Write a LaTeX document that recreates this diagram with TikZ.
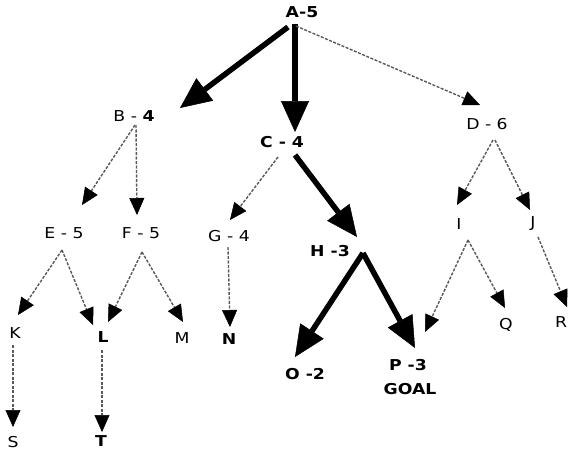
\documentclass[tikz,border=0pt]{standalone}
\usepackage{fontspec}
\setmainfont{DejaVu Sans}[FakeStretch=1.15]
\usepackage{tikz}
\usetikzlibrary{arrows.meta, calc}

\begin{document}
\begin{tikzpicture}[x=1pt, y=-1pt,
    lbl/.style={font=\fontsize{15}{17}\selectfont, inner sep=1pt},
    lblb/.style={lbl, font=\fontsize{15}{17}\selectfont\bfseries},
    hot/.style={line width=5.5pt, -{Triangle[length=31pt, width=28pt, line width=0.5pt]}},
    cold/.style={draw=black!65, line width=1.4pt, dash pattern=on 3pt off 1.5pt,
                 -{Triangle[length=17pt, width=15pt, line width=0.5pt, color=black]}}
]
    \useasboundingbox (0,0) rectangle (568,456);

    % search tree nodes
    \node[lblb] (A) at (302,12) {A-5};
    \node[lbl] (B) at (134,116) {B - \textbf{4}};
    \node[lblb] (C) at (282,142) {C - 4};
    \node[lbl] (D) at (487,124) {D - 6};
    \node[lbl] (E) at (64,233) {E - 5};
    \node[lbl] (F) at (141,233) {F - 5};
    \node[lbl] (G) at (229,236) {G - 4};
    \node[lblb] (H) at (330,251) {H -3};
    \node[lbl] (I) at (459,224) {I};
    \node[lbl] (J) at (533,224) {J};
    \node[lbl] (K) at (15,333) {K};
    \node[lblb] (L) at (103,337) {L};
    \node[lbl] (M) at (182,338) {M};
    \node[lblb] (N) at (229,339) {N};
    \node[lblb] (O) at (305,374) {O -2};
    \node[lblb] (P) at (408,365) {P -3};
    \node[lblb] (goal) at (410,389) {GOAL};
    \node[lbl] (Q) at (506,325) {Q};
    \node[lbl] (R) at (561,322) {R};
    \node[lbl] (S) at (13,442) {S};
    \node[lblb] (T) at (101,441) {T};

    % chosen path
    \draw[hot] ($(A)+(-14,15)$) -- ($(B)+(46,-8)$);
    \draw[hot] ($(A)+(-7,12)$) -- ($(C)+(13,-10)$);
    \draw[hot] ($(C)+(13,13)$) -- ($(H)+(27,-14)$);
    \draw[hot] ($(H)+(33,2)$) -- ($(O)+(-10,-17)$);
    \draw[hot] ($(H)+(33,2)$) -- ($(P)+(7,-17)$);

    % other expansions
    \draw[cold] ($(A)+(-6,14)$) -- ($(D)+(-7,-19)$);
    \draw[cold] ($(B)+(1,9)$) -- ($(E)+(18,-28)$);
    \draw[cold] ($(B)+(2,9)$) -- ($(F)+(-4,-18)$);
    \draw[cold] ($(C)+(-4,15)$) -- ($(G)+(1,-16)$);
    \draw[cold] ($(D)+(6,16)$) -- ($(I)+(-2,-19)$);
    \draw[cold] ($(D)+(8,16)$) -- ($(J)+(-3,-14)$);
    \draw[cold] ($(E)+(-2,17)$) -- ($(K)+(3,-18)$);
    \draw[cold] ($(E)+(-2,17)$) -- ($(L)+(-10,-12)$);
    \draw[cold] ($(F)+(1,19)$) -- ($(L)+(5,-15)$);
    \draw[cold] ($(F)+(1,19)$) -- ($(M)+(1,-16)$);
    \draw[cold] ($(G)+(-1,11)$) -- ($(N)+(1,-12)$);
    \draw[cold] ($(I)+(9,16)$) -- ($(P)+(17,-33)$);
    \draw[cold] ($(I)+(9,16)$) -- ($(Q)+(-1,-17)$);
    \draw[cold] ($(J)+(5,13)$) -- ($(R)+(6,-15)$);
    \draw[cold] ($(K)+(-2,12)$) -- ($(S)+(0,-15)$);
    \draw[cold] ($(L)+(-1,13)$) -- ($(T)+(1,-9)$);
\end{tikzpicture}
\end{document}
